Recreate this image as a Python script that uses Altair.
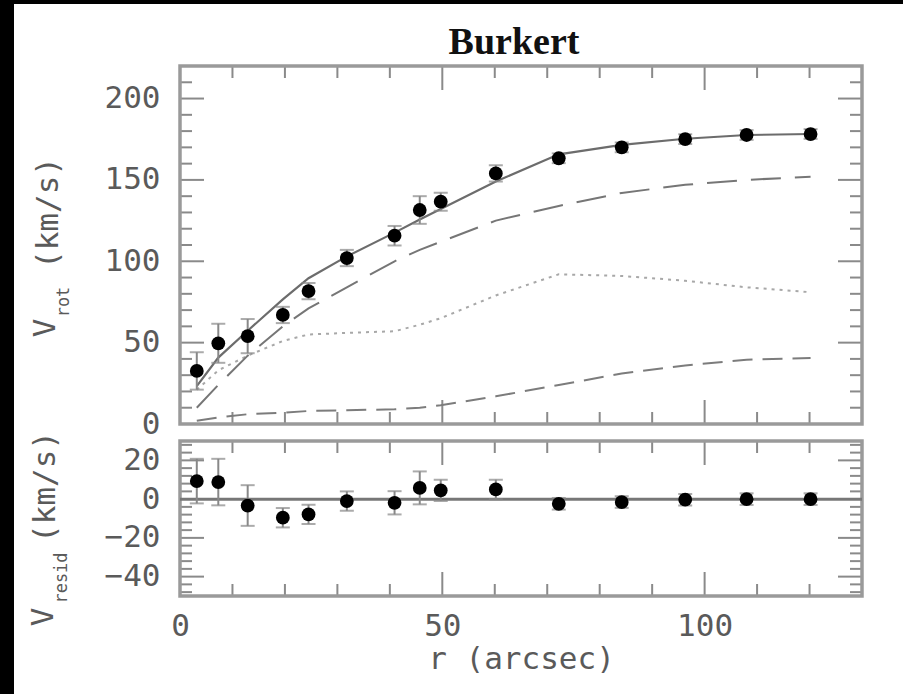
import altair as alt
import pandas as pd

# ---------------- data ----------------
R = [3.2, 7.3, 12.9, 19.6, 24.5, 31.8, 40.9, 45.7, 49.7, 60.2, 72.2, 84.2, 96.3, 108.0, 120.2]
V_OBS = [32.6, 49.6, 54.0, 67.0, 81.7, 102.0, 115.7, 131.5, 136.6, 154.0, 163.3, 170.0, 175.0, 177.6, 178.2]
V_ERR = [11.5, 12.0, 10.5, 5.0, 5.0, 5.0, 6.0, 8.5, 5.5, 5.0, 3.0, 3.0, 3.0, 3.0, 3.0]
V_FIT = [23.3, 40.8, 57.3, 76.6, 89.6, 103.0, 117.6, 125.7, 132.1, 149.0, 165.7, 171.5, 175.3, 177.6, 178.2]
V_HALO = [10, 24, 42, 60, 71, 84, 100, 107, 112, 125, 134, 142, 147, 150, 152]
V_DISK = [21, 33, 42, 51, 55, 56, 57, 61, 65, 79, 92, 91, 88, 84, 81]
V_GAS = [2, 4, 6, 7, 8, 8.5, 9, 10, 11.5, 17, 24, 31, 36, 39.5, 40.5]
V_RES = [9.3, 8.8, -3.3, -9.6, -7.9, -1.0, -1.9, 5.8, 4.5, 5.0, -2.4, -1.5, -0.3, 0.0, 0.0]

X_LABELS = [0, 50, 100]
X_MAJOR = [50, 100]
X_MINOR = [10, 20, 30, 40, 60, 70, 80, 90, 110, 120]
YT_LABELS = [0, 50, 100, 150, 200]
YT_MAJOR = [50, 100, 150, 200]
YT_MINOR = [10, 20, 30, 40, 60, 70, 80, 90, 110, 120, 130, 140, 160, 170, 180, 190, 210]
YB_LABELS = [-40, -20, 0, 20]
YB_MAJOR = [-40, -20, 20]
YB_MINOR = [-48, -44, -36, -32, -28, -24, -16, -12, -8, -4, 4, 8, 12, 16, 24, 28]

# ---------------- layout / style ----------------
W, HT, HB = 682, 358, 155
FONT = "DejaVu Sans Mono"
FS = 31
TXT = "#5a5a5a"
TICK = "#8a8a8a"
FRAME = "#9a9a9a"
MAJ, MIN = 24, 12

df = pd.DataFrame({"r": R, "v": V_OBS, "err": V_ERR, "fit": V_FIT, "halo": V_HALO,
                   "disk": V_DISK, "gas": V_GAS, "res": V_RES})
df["lo"] = df["v"] - df["err"]
df["hi"] = df["v"] + df["err"]
df["rlo"] = df["res"] - df["err"]
df["rhi"] = df["res"] + df["err"]

xs = alt.Scale(domain=[0, 130], nice=False, zero=False)
yts = alt.Scale(domain=[0, 220], nice=False, zero=False)
ybs = alt.Scale(domain=[-50, 30], nice=False, zero=False)

AX_X_TOP = alt.Axis(labels=False, ticks=False, domain=False, grid=False, title=None)
AX_X_BOT = alt.Axis(values=X_LABELS, ticks=False, domain=False, grid=False, labelFlush=False,
                    labelFont=FONT, labelFontSize=FS, labelColor=TXT, labelPadding=15,
                    title="r (arcsec)", titleFont=FONT, titleFontSize=FS, titleFontWeight="normal",
                    titleColor=TXT, titlePadding=3, zindex=1)
AX_Y_TOP = alt.Axis(values=YT_LABELS, ticks=False, domain=False, grid=False, labelFlush=False,
                    labelFont=FONT, labelFontSize=FS, labelColor=TXT, labelPadding=20, title=None,
                    zindex=1)
AX_Y_BOT = alt.Axis(values=YB_LABELS, ticks=False, domain=False, grid=False, labelFlush=False,
                    labelFont=FONT, labelFontSize=FS, labelColor=TXT, labelPadding=20, title=None,
                    zindex=1)


def X(field, top):
    return alt.X(field, type="quantitative", scale=xs, axis=AX_X_TOP if top else AX_X_BOT)


def Y(field, top):
    return alt.Y(field, type="quantitative", scale=yts if top else ybs,
                 axis=AX_Y_TOP if top else AX_Y_BOT)


def one(t="x"):
    return alt.Chart(pd.DataFrame({"t": [t]}))


def tick_layers(top):
    H = HT if top else HB
    layers = []
    for vals, L in ((X_MAJOR, MAJ), (X_MINOR, MIN)):
        d = alt.Chart(pd.DataFrame({"v": vals}))
        layers.append(d.mark_rule(color=TICK, strokeWidth=2).encode(
            x=X("v", top), y=alt.value(0), y2=alt.value(L)))
        layers.append(d.mark_rule(color=TICK, strokeWidth=2).encode(
            x=X("v", top), y=alt.value(H), y2=alt.value(H - L)))
    ymaj, ymin = (YT_MAJOR, YT_MINOR) if top else (YB_MAJOR, YB_MINOR)
    for vals, L in ((ymaj, MAJ), (ymin, MIN)):
        d = alt.Chart(pd.DataFrame({"v": vals}))
        layers.append(d.mark_rule(color=TICK, strokeWidth=2).encode(
            y=Y("v", top), x=alt.value(0), x2=alt.value(L)))
        layers.append(d.mark_rule(color=TICK, strokeWidth=2).encode(
            y=Y("v", top), x=alt.value(W), x2=alt.value(W - L)))
    return layers


def frame(H):
    return one().mark_rect(fillOpacity=0, stroke=FRAME, strokeWidth=3.5).encode(
        x=alt.value(0), x2=alt.value(W), y=alt.value(0), y2=alt.value(H))


def rot_text(txt, x, y, size):
    return one(txt).mark_text(angle=270, align="center", baseline="middle", font=FONT,
                              fontSize=size, color=TXT).encode(
        text="t:N", x=alt.value(x), y=alt.value(y))


base = alt.Chart(df)

# white page area (black strips remain on left and top)
paper = one().mark_rect(color="white").encode(
    x=alt.value(-166), x2=alt.value(723), y=alt.value(-62), y2=alt.value(628))

title = one("Burkert").mark_text(font="Liberation Serif", fontWeight="bold", fontSize=38,
                                 color="#111111", align="center", baseline="alphabetic").encode(
    text="t:N", x=alt.value(334), y=alt.value(-12))

halo = base.mark_line(color="#767676", strokeWidth=2, strokeDash=[30, 14]).encode(
    x=X("r", True), y=Y("halo", True))
disk = base.mark_line(color="#a8a8a8", strokeWidth=2, strokeDash=[3, 5]).encode(
    x=X("r", True), y=Y("disk", True))
gas = base.mark_line(color="#7c7c7c", strokeWidth=2, strokeDash=[20, 10]).encode(
    x=X("r", True), y=Y("gas", True))
fit = base.mark_line(color="#6c6c6c", strokeWidth=2.2).encode(
    x=X("r", True), y=Y("fit", True))
eb_t = base.mark_rule(color="#888888", strokeWidth=2).encode(
    x=X("r", True), y=Y("lo", True), y2="hi")
cap_lo_t = base.mark_tick(color="#888888", thickness=2, size=14, orient="horizontal").encode(
    x=X("r", True), y=Y("lo", True))
cap_hi_t = base.mark_tick(color="#888888", thickness=2, size=14, orient="horizontal").encode(
    x=X("r", True), y=Y("hi", True))
pts_t = base.mark_circle(size=190, color="black", opacity=1).encode(
    x=X("r", True), y=Y("v", True))

top = alt.layer(
    paper, *tick_layers(True), frame(HT), title,
    rot_text("(km/s)", -131, 147, FS), rot_text("V", -134, 262, FS), rot_text("rot", -116, 236, 17),
    disk, gas, halo, fit, eb_t, cap_lo_t, cap_hi_t, pts_t,
).properties(width=W, height=HT)

zero = one().mark_rule(color="#777777", strokeWidth=3).encode(y=alt.Y("z:Q", scale=ybs, axis=AX_Y_BOT),
                                                             x=alt.value(0), x2=alt.value(W)).transform_calculate(z="0")
eb_b = base.mark_rule(color="#888888", strokeWidth=2).encode(
    x=X("r", False), y=Y("rlo", False), y2="rhi")
cap_lo_b = base.mark_tick(color="#888888", thickness=2, size=14, orient="horizontal").encode(
    x=X("r", False), y=Y("rlo", False))
cap_hi_b = base.mark_tick(color="#888888", thickness=2, size=14, orient="horizontal").encode(
    x=X("r", False), y=Y("rhi", False))
pts_b = base.mark_circle(size=190, color="black", opacity=1).encode(
    x=X("r", False), y=Y("res", False))

bottom = alt.layer(
    *tick_layers(False), frame(HB),
    rot_text("(km/s)", -134, 46, FS), rot_text("V", -136, 176, FS), rot_text("resid", -118, 137, 17),
    zero, eb_b, cap_lo_b, cap_hi_b, pts_b,
).properties(width=W, height=HB)

chart = alt.vconcat(top, bottom, spacing=17, bounds="flush").properties(
    padding={"left": 14, "top": 4, "right": 0, "bottom": 0}, background="black"
).configure_view(stroke=None)

chart.save("out.html", embed_options={"renderer": "svg", "actions": False})
